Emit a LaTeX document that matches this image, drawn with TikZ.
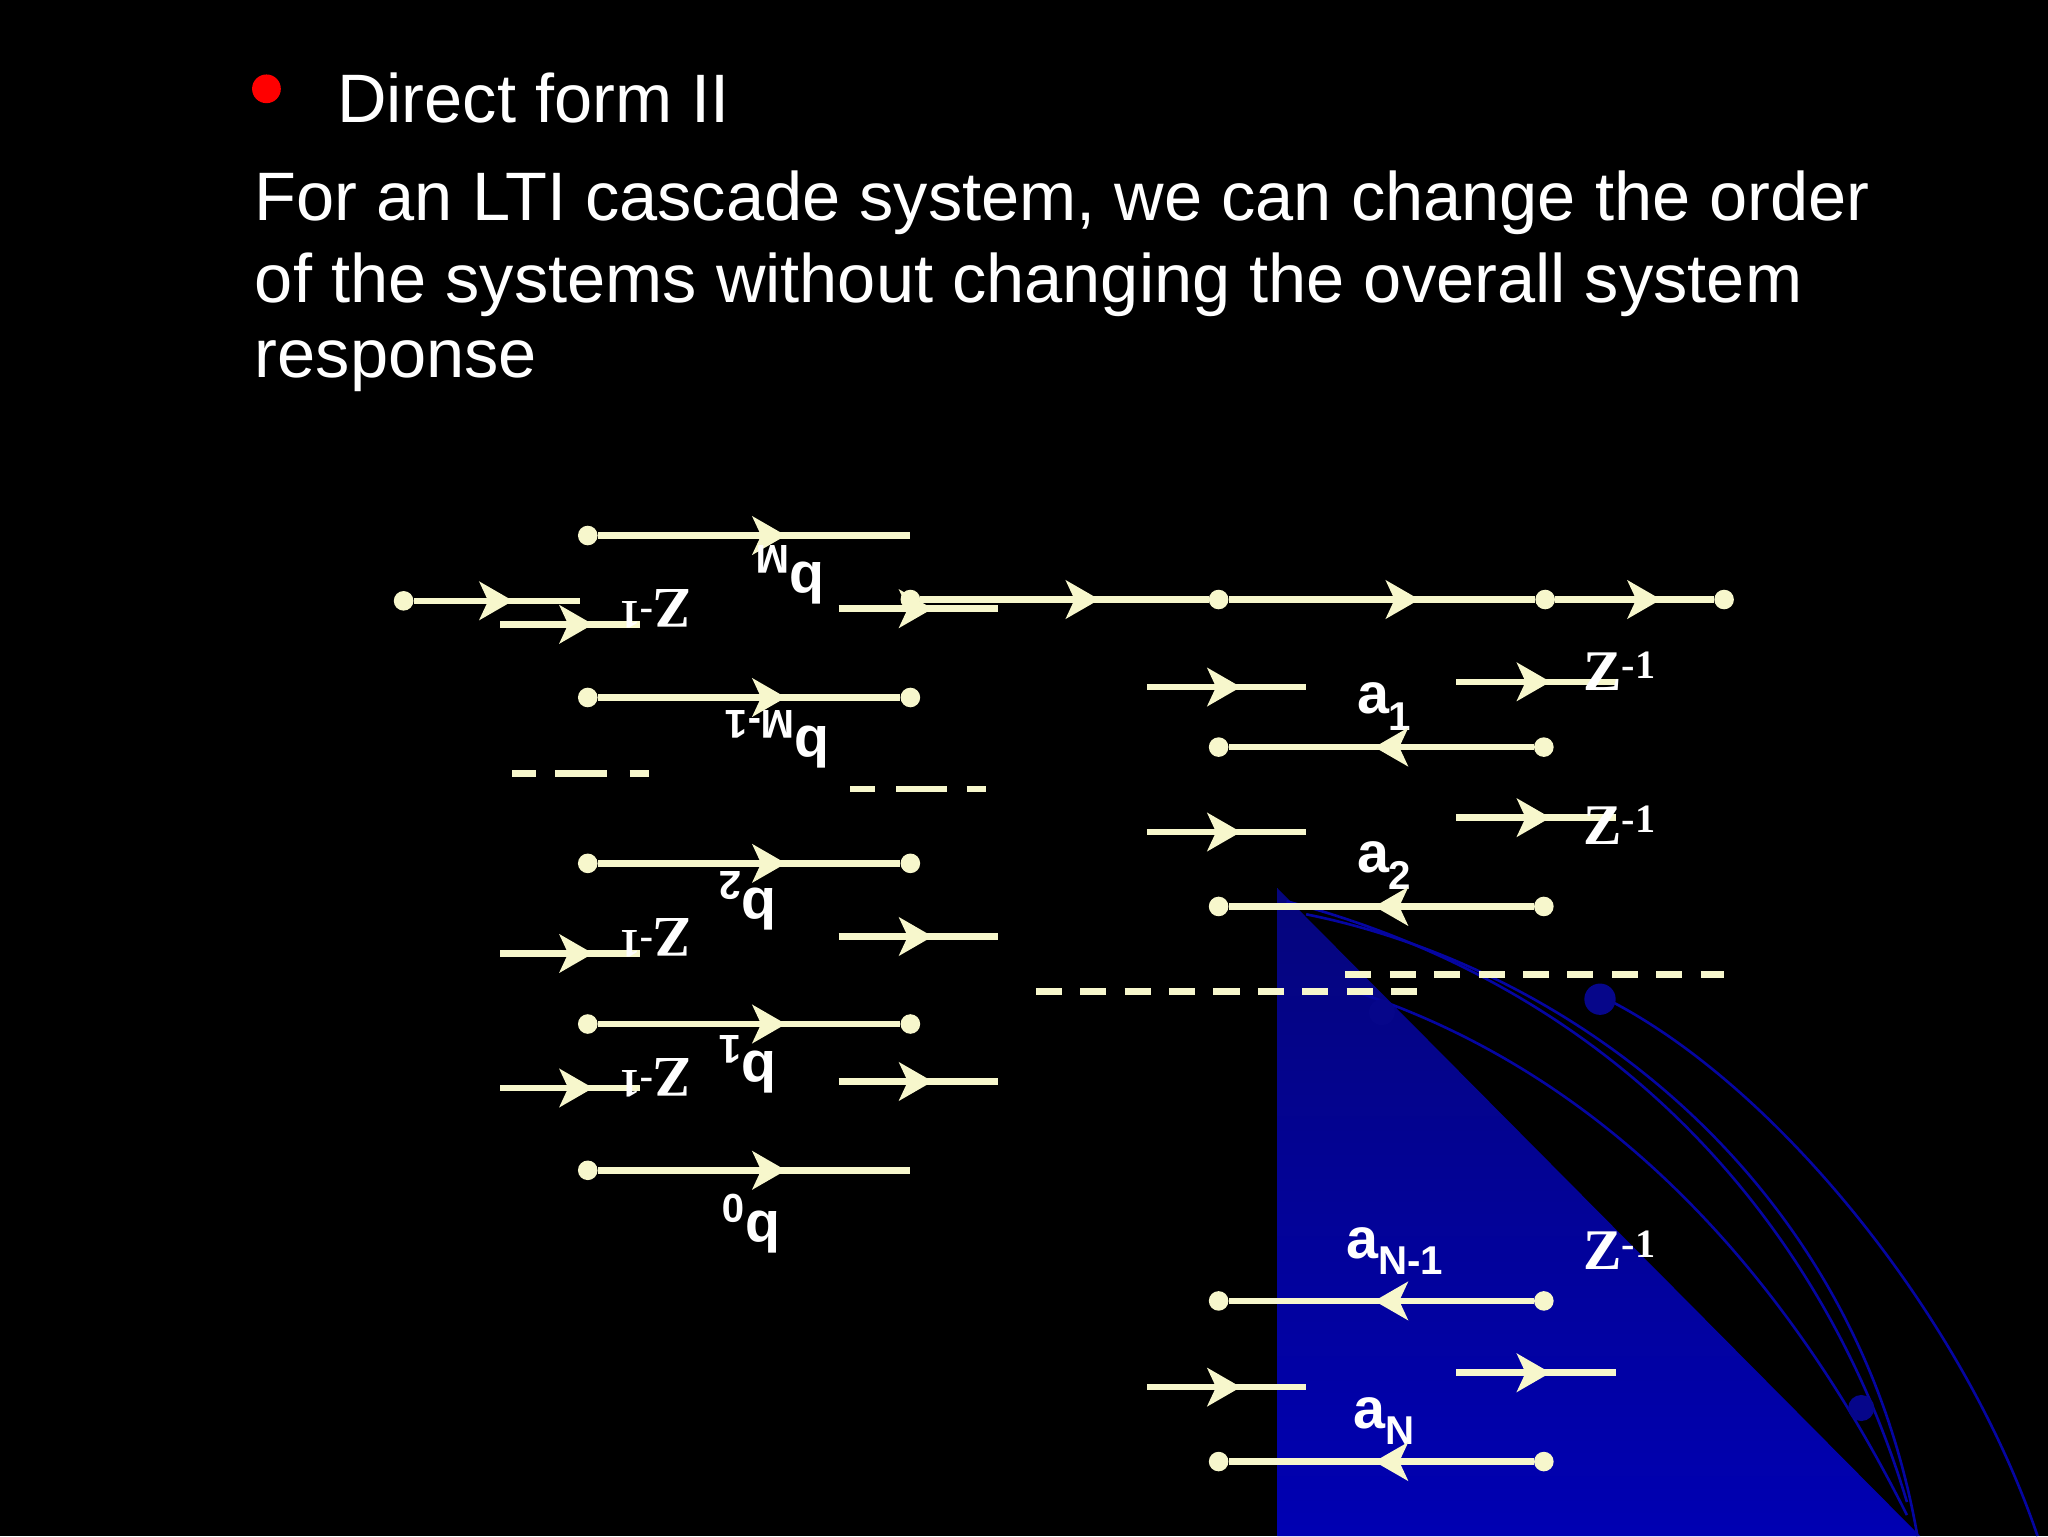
\documentclass[tikz,border=0pt]{standalone}
\usepackage{fontspec}
\setmainfont{Liberation Sans}
\newfontfamily\tms{Liberation Serif}
\usetikzlibrary{decorations.markings}
\definecolor{fg}{HTML}{F7F7CC}
\definecolor{dblue}{HTML}{06068A}
\newcommand\zinv{{\tms Z\textsuperscript{-1}}}
\tikzset{
 flow/.style={draw=fg, line width=5pt, postaction={decorate, decoration={markings, mark=at position #1pt with {\fill[fg] (-12,-15)--(14,0)--(-12,15)--(-5,0)--cycle;}}}},
 plain/.style={draw=fg, line width=5pt},
 dot/.style={circle, fill=fg, inner sep=0pt, minimum size=15pt},
 lab/.style={text=white, font=\fontsize{44}{44}\bfseries\selectfont, inner sep=0pt},
 zl/.style={text=white, font=\fontsize{44}{44}\bfseries\selectfont, inner sep=0pt},
 dsh/.style={draw=fg, line width=5pt, dash pattern=on 20pt off 14pt},
 txt/.style={text=white, anchor=west, inner sep=0pt, font=\fontsize{52.5}{52.5}\selectfont}
}
\begin{document}
\begin{tikzpicture}[x=1pt,y=-1pt]
\fill[black] (0,0) rectangle (1568,1176);
\useasboundingbox (0,0) rectangle (1568,1176);
% blue decoration
\begin{scope}
\clip (0,0) rectangle (1568,1176);
\shade[top color=dblue!90!black, bottom color=blue!70!black]
  (978,680) -- (1470,1176) -- (978,1176) -- cycle;
\draw[dblue!80!blue, line width=2pt] (985,690) .. controls (1250,760) and (1400,950) .. (1460,1150);
\draw[dblue!80!blue, line width=2pt] (1000,700) .. controls (1200,740) and (1420,900) .. (1468,1176);
\draw[dblue!80!blue, line width=2pt] (1040,760) .. controls (1250,830) and (1380,1000) .. (1460,1160);
\draw[dblue!80!blue, line width=2pt] (1220,760) .. controls (1350,820) and (1500,1000) .. (1560,1176);
\fill[dblue] (1058,775) circle (10);
\fill[dblue] (1225,765) circle (12);
\fill[dblue] (1425,1078) circle (10);
\end{scope}
% title
\fill[red] (204,68) circle (11);
\node[txt] (t0) at (258,75) {Direct form II};
\node[txt] (t1) at (195,155) {For an LTI cascade system, we can change the order};
\node[txt] (t2) at (195,218) {of the systems without changing the overall system};
\node[txt] (t3) at (195,280) {response};
% left half
\node[dot] (in) at (309,460) {};
\coordinate (in2) at (444,460);
\draw[flow=62] (in) -- (in2);
\coordinate (za1) at (383,478); \coordinate (zb1) at (490,478);
\draw[flow=57] (za1) -- (zb1);
\node[zl, rotate=180] (z1) at (502,466) {\zinv};
\node[dot] (bm0) at (450,410) {}; \coordinate (bm1) at (697,410);
\draw[flow=130] (bm0) -- (bm1);
\node[lab, rotate=180] (lbm) at (605,440) {b\textsubscript{M}};
\coordinate (o1a) at (642,466); \coordinate (o1b) at (764,466);
\draw[flow=58] (o1a) -- (o1b);
\node[dot] (n0) at (697,459) {};
\node[dot] (n1) at (933,459) {};
\node[dot] (n2) at (1183,459) {};
\node[dot] (n3) at (1320,459) {};
\draw[flow=123] (n0) -- (n1);
\draw[flow=132] (n1) -- (n2);
\draw[flow=67] (n2) -- (n3);
\node[dot] (bq0) at (450,534) {}; \node[dot] (bq1) at (697,534) {};
\draw[flow=130] (bq0) -- (bq1);
\node[lab, rotate=180] (lbq) at (595,566) {b\textsubscript{M-1}};
\draw[plain] (392,592) -- (410,592) (425,592) -- (465,592) (482,592) -- (497,592);
\draw[plain] (651,604) -- (670,604) (686,604) -- (725,604) (740,604) -- (755,604);
\node[dot] (b20) at (450,661) {}; \node[dot] (b21) at (697,661) {};
\draw[flow=130] (b20) -- (b21);
\node[lab, rotate=180] (lb2) at (572,690) {b\textsubscript{2}};
\coordinate (za2) at (383,730); \coordinate (zb2) at (490,730);
\draw[flow=57] (za2) -- (zb2);
\node[zl, rotate=180] (z2) at (502,718) {\zinv};
\coordinate (o2a) at (642,717); \coordinate (o2b) at (764,717);
\draw[flow=58] (o2a) -- (o2b);
\node[dot] (b10) at (450,784) {}; \node[dot] (b11) at (697,784) {};
\draw[flow=130] (b10) -- (b11);
\node[lab, rotate=180] (lb1) at (572,815) {b\textsubscript{1}};
\coordinate (za3) at (383,833); \coordinate (zb3) at (490,833);
\draw[flow=57] (za3) -- (zb3);
\node[zl, rotate=180] (z3) at (502,825) {\zinv};
\coordinate (o3a) at (642,828); \coordinate (o3b) at (764,828);
\draw[flow=58] (o3a) -- (o3b);
\node[dot] (b00) at (450,896) {}; \coordinate (b01) at (697,896);
\draw[flow=130] (b00) -- (b01);
\node[lab, rotate=180] (lb0) at (575,937) {b\textsubscript{0}};
% right half
\coordinate (r1a) at (878,526); \coordinate (r1b) at (1000,526);
\draw[flow=58] (r1a) -- (r1b);
\coordinate (s1a) at (1115,522); \coordinate (s1b) at (1237,522);
\draw[flow=58] (s1a) -- (s1b);
\node[zl, anchor=west] (zr1) at (1212,514) {\zinv};
\node[lab] (la1) at (1060,541) {a\textsubscript{1}};
\node[dot] (a10) at (1182,572) {}; \node[dot] (a11) at (933,572) {};
\draw[flow=108] (a10) -- (a11);
\coordinate (r2a) at (878,637); \coordinate (r2b) at (1000,637);
\draw[flow=58] (r2a) -- (r2b);
\coordinate (s2a) at (1115,626); \coordinate (s2b) at (1237,626);
\draw[flow=58] (s2a) -- (s2b);
\node[zl, anchor=west] (zr2) at (1212,632) {\zinv};
\node[lab] (la2) at (1060,663) {a\textsubscript{2}};
\node[dot] (a20) at (1182,694) {}; \node[dot] (a21) at (933,694) {};
\draw[flow=108] (a20) -- (a21);
\draw[dsh] (793,759) -- (1085,759);
\draw[dsh] (1030,746) -- (1320,746);
\node[lab] (lan1) at (1068,958) {a\textsubscript{N-1}};
\node[zl, anchor=west] (zr3) at (1212,957) {\zinv};
\node[dot] (an10) at (1182,996) {}; \node[dot] (an11) at (933,996) {};
\draw[flow=108] (an10) -- (an11);
\coordinate (r3a) at (878,1062); \coordinate (r3b) at (1000,1062);
\draw[flow=58] (r3a) -- (r3b);
\coordinate (s3a) at (1115,1051); \coordinate (s3b) at (1237,1051);
\draw[flow=58] (s3a) -- (s3b);
\node[lab] (lan) at (1060,1088) {a\textsubscript{N}};
\node[dot] (an0) at (1182,1119) {}; \node[dot] (an1) at (933,1119) {};
\draw[flow=108] (an0) -- (an1);
\end{tikzpicture}
\end{document}
